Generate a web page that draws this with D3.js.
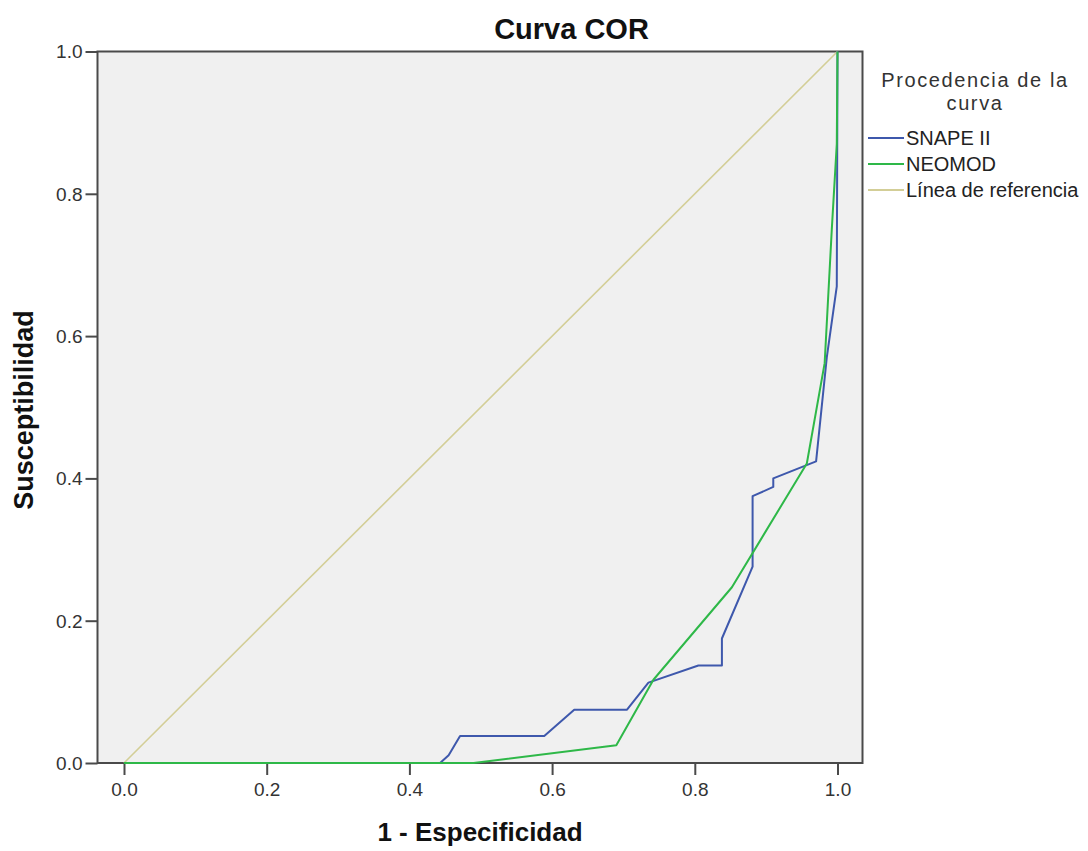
<!DOCTYPE html>
<html><head><meta charset="utf-8">
<script src="https://cdn.jsdelivr.net/npm/d3@7"></script>
<style>
html,body{margin:0;padding:0;background:#fff;}
text{font-family:Arial,"Liberation Sans",sans-serif;}
</style></head>
<body>
<svg id="chart" width="1088" height="851"></svg>
<script>
// ---- data ----
const seriesNames = ["SNAPE II", "NEOMOD", "Línea de referencia"];
const snapeFpr = [0, 0.443, 0.455, 0.471, 0.589, 0.631, 0.705, 0.735, 0.805, 0.838, 0.838, 0.881, 0.881, 0.910, 0.910, 0.970, 0.985, 0.999, 1];
const snapeTpr = [0, 0, 0.011, 0.038, 0.038, 0.075, 0.075, 0.113, 0.137, 0.137, 0.175, 0.276, 0.375, 0.388, 0.400, 0.424, 0.570, 0.670, 1];
const neomodFpr = [0, 0.490, 0.690, 0.742, 0.852, 0.957, 0.982, 0.992, 0.999, 1];
const neomodTpr = [0, 0, 0.025, 0.117, 0.247, 0.421, 0.562, 0.750, 0.870, 1];
const refFpr = [0, 1];
const refTpr = [0, 1];
const tickValues = [0, 0.2, 0.4, 0.6, 0.8, 1.0];
const titleText = "Curva COR";
const xLabel = "1 - Especificidad";
const yLabel = "Susceptibilidad";
const legendTitle = ["Procedencia de la", "curva"];

const colors = ["#3E58AC", "#2EB848", "#D3CE97"];

const svg = d3.select("#chart");
const frame = {left: 97.5, right: 862.5, top: 51.5, bottom: 763};
const x = d3.scaleLinear().domain([0, 1]).range([124, 837.5]);
const y = d3.scaleLinear().domain([0, 1]).range([frame.bottom, frame.top]);

// plot background
svg.append("rect")
  .attr("x", frame.left).attr("y", frame.top)
  .attr("width", frame.right - frame.left).attr("height", frame.bottom - frame.top)
  .attr("fill", "#F0F0F0");

// axes
const fmt = d3.format(".1f");
const xAxis = svg.append("g").attr("transform", `translate(0,${frame.bottom})`)
  .call(d3.axisBottom(x).tickValues(tickValues).tickFormat(fmt).tickSize(12).tickSizeOuter(0));
const yAxis = svg.append("g").attr("transform", `translate(${frame.left},0)`)
  .call(d3.axisLeft(y).tickValues(tickValues).tickFormat(fmt).tickSize(12).tickSizeOuter(0));
[xAxis, yAxis].forEach(g => {
  g.select(".domain").remove();
  g.selectAll(".tick line").attr("stroke", "#4a4a4a").attr("stroke-width", 2);
  g.selectAll(".tick text").attr("fill", "#333").style("font-size", "19px")
    .style("font-family", "Arial, 'Liberation Sans', sans-serif");
});
xAxis.selectAll(".tick text").attr("y", 20).attr("dy", "0.71em");
yAxis.selectAll(".tick text").attr("x", -15).attr("dy", "0.34em");

// frame
svg.append("rect")
  .attr("x", frame.left).attr("y", frame.top)
  .attr("width", frame.right - frame.left).attr("height", frame.bottom - frame.top)
  .attr("fill", "none").attr("stroke", "#4a4a4a").attr("stroke-width", 2);

// lines
const line = d3.line().x(d => x(d[0])).y(d => y(d[1]));
const toPts = (a, b) => a.map((v, i) => [v, b[i]]);
const series = [
  {pts: toPts(refFpr, refTpr), color: colors[2], w: 1.6},
  {pts: toPts(snapeFpr, snapeTpr), color: colors[0], w: 2},
  {pts: toPts(neomodFpr, neomodTpr), color: colors[1], w: 2}
];
series.forEach(s => {
  svg.append("path").datum(s.pts).attr("d", line)
    .attr("fill", "none").attr("stroke", s.color).attr("stroke-width", s.w)
    .attr("stroke-linejoin", "round");
});

// title and axis labels
svg.append("text").attr("x", 571.5).attr("y", 38.5).attr("text-anchor", "middle")
  .style("font-size", "29px").style("font-weight", "bold").attr("fill", "#111").text(titleText);
svg.append("text").attr("x", 480).attr("y", 841).attr("text-anchor", "middle")
  .style("font-size", "26px").style("font-weight", "bold").attr("fill", "#111").text(xLabel);
svg.append("text").attr("transform", "translate(33,410) rotate(-90)").attr("text-anchor", "middle")
  .style("font-size", "27px").style("font-weight", "bold").attr("fill", "#111").text(yLabel);

// legend
const lg = svg.append("g");
legendTitle.forEach((t, i) => {
  lg.append("text").attr("x", 975).attr("y", 87 + i * 23).attr("text-anchor", "middle")
    .style("font-size", "20px").style("letter-spacing", "1.6px").attr("fill", "#333").text(t);
});
const legendY = [138, 164, 190];
seriesNames.forEach((n, i) => {
  lg.append("line").attr("x1", 868).attr("x2", 904).attr("y1", legendY[i]).attr("y2", legendY[i])
    .attr("stroke", colors[i]).attr("stroke-width", 2);
  lg.append("text").attr("x", 906).attr("y", legendY[i] + 7).attr("fill", "#222")
    .style("font-size", "20px").text(n);
});
</script>
</body></html>
